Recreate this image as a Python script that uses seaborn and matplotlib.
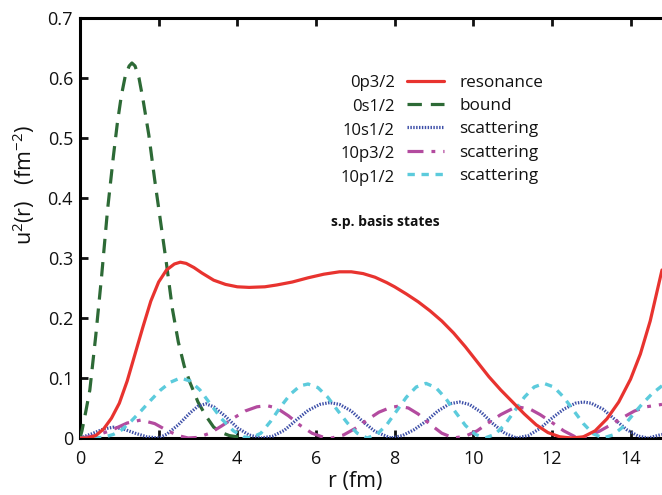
import matplotlib
matplotlib.use('Agg')
import matplotlib.pyplot as plt
import seaborn as sns

# 0p3/2 resonance
r_res = [0, 0.2, 0.4, 0.6, 0.8, 1.0, 1.2, 1.4, 1.6, 1.8, 2.0, 2.2, 2.4, 2.55, 2.7, 2.9, 3.1,
         3.4, 3.7, 4.0, 4.3, 4.7, 5.0, 5.4, 5.8, 6.2, 6.6, 6.9, 7.2, 7.5, 7.8, 8.0, 8.3, 8.6,
         8.9, 9.2, 9.5, 9.8, 10.1, 10.4, 10.7, 11.0, 11.3, 11.6, 11.9, 12.2, 12.5, 12.8,
         13.1, 13.4, 13.7, 14.0, 14.25, 14.5, 14.8]
u_res = [0, 0, 0.004, 0.015, 0.033, 0.058, 0.095, 0.14, 0.185, 0.228, 0.26, 0.28, 0.29,
         0.293, 0.291, 0.284, 0.275, 0.263, 0.256, 0.252, 0.251, 0.252, 0.255, 0.26, 0.267,
         0.273, 0.277, 0.277, 0.274, 0.268, 0.259, 0.252, 0.24, 0.227, 0.212, 0.195, 0.175,
         0.152, 0.127, 0.102, 0.08, 0.06, 0.04, 0.022, 0.009, 0.002, 0, 0.002, 0.012, 0.032,
         0.06, 0.098, 0.14, 0.195, 0.28]

# 0s1/2 bound
r_bnd = [0, 0.05, 0.15, 0.25, 0.4, 0.55, 0.7, 0.85, 0.95, 1.05, 1.15, 1.25, 1.32, 1.4, 1.5,
         1.6, 1.75, 1.9, 2.05, 2.2, 2.35, 2.5, 2.65, 2.8, 3.0, 3.2, 3.4, 3.6, 3.8, 4.0, 4.3]
u_bnd = [0, 0.012, 0.045, 0.08, 0.17, 0.27, 0.38, 0.47, 0.525, 0.57, 0.603, 0.62, 0.625,
         0.62, 0.6, 0.565, 0.505, 0.43, 0.36, 0.29, 0.215, 0.16, 0.12, 0.092, 0.06, 0.037,
         0.018, 0.009, 0.004, 0.002, 0]

# 10s1/2 scattering
r_s12 = [0, 0.3, 0.6, 0.85, 1.1, 1.4, 1.7, 2.0, 2.2, 2.5, 2.8, 3.0, 3.2, 3.4, 3.7, 4.0, 4.3,
         4.6, 4.9, 5.2, 5.5, 5.8, 6.1, 6.35, 6.6, 6.9, 7.2, 7.5, 7.9, 8.2, 8.5, 8.8, 9.1,
         9.4, 9.65, 9.9, 10.2, 10.5, 10.8, 11.1, 11.4, 11.7, 12.0, 12.3, 12.6, 12.8, 13.0,
         13.3, 13.6, 13.9, 14.2, 14.45, 14.8]
u_s12 = [0, 0.007, 0.015, 0.018, 0.015, 0.008, 0.002, 0, 0.006, 0.022, 0.042, 0.053, 0.057,
         0.052, 0.036, 0.017, 0.005, 0, 0.003, 0.013, 0.03, 0.046, 0.056, 0.059, 0.056,
         0.045, 0.027, 0.011, 0, 0.004, 0.014, 0.028, 0.045, 0.057, 0.06, 0.056, 0.043,
         0.024, 0.008, 0, 0.004, 0.016, 0.033, 0.048, 0.058, 0.06, 0.058, 0.048, 0.031,
         0.014, 0.003, 0, 0.006]

# 10p3/2 scattering
r_p32 = [0, 0.4, 0.8, 1.2, 1.55, 1.9, 2.2, 2.5, 2.75, 3.0, 3.3, 3.6, 3.9, 4.2, 4.5, 4.75,
         5.0, 5.3, 5.6, 5.9, 6.2, 6.4, 6.7, 7.0, 7.3, 7.6, 7.9, 8.1, 8.35, 8.6, 8.9, 9.2,
         9.5, 9.8, 10.1, 10.4, 10.7, 11.0, 11.2, 11.45, 11.7, 12.0, 12.3, 12.65, 12.9, 13.2,
         13.5, 13.8, 14.1, 14.4, 14.8]
u_p32 = [0, 0.004, 0.013, 0.025, 0.03, 0.024, 0.013, 0.004, 0, 0.001, 0.008, 0.02, 0.033,
         0.045, 0.052, 0.054, 0.05, 0.037, 0.021, 0.008, 0.001, 0, 0.005, 0.016, 0.03,
         0.043, 0.051, 0.053, 0.05, 0.04, 0.023, 0.008, 0, 0.003, 0.012, 0.026, 0.039,
         0.049, 0.051, 0.048, 0.039, 0.026, 0.012, 0, 0.003, 0.011, 0.022, 0.034, 0.045,
         0.052, 0.056]

# 10p1/2 scattering
r_p12 = [0, 0.3, 0.6, 0.85, 1.07, 1.3, 1.55, 1.8, 2.05, 2.3, 2.55, 2.8, 3.05, 3.3, 3.6, 3.9,
         4.15, 4.35, 4.6, 4.85, 5.1, 5.35, 5.6, 5.8, 6.05, 6.3, 6.55, 6.8, 7.05, 7.3, 7.55,
         7.8, 8.05, 8.3, 8.55, 8.8, 9.05, 9.3, 9.55, 9.8, 10.05, 10.3, 10.55, 10.8, 11.05,
         11.3, 11.55, 11.8, 12.05, 12.3, 12.55, 12.8, 13.05, 13.3, 13.55, 13.8, 14.05, 14.3,
         14.55, 14.8]
u_p12 = [0, 0, 0.001, 0.006, 0.014, 0.028, 0.045, 0.063, 0.08, 0.093, 0.1, 0.095, 0.08,
         0.058, 0.032, 0.012, 0.002, 0, 0.008, 0.028, 0.052, 0.073, 0.087, 0.09, 0.084,
         0.068, 0.046, 0.025, 0.008, 0, 0.006, 0.022, 0.045, 0.068, 0.085, 0.091, 0.084,
         0.066, 0.043, 0.021, 0.006, 0, 0.006, 0.022, 0.045, 0.068, 0.085, 0.091, 0.085,
         0.068, 0.046, 0.024, 0.007, 0, 0.005, 0.018, 0.038, 0.057, 0.074, 0.087]

state_names = ['0p3/2', '0s1/2', '10s1/2', '10p3/2', '10p1/2']
state_kinds = ['resonance', 'bound', 'scattering', 'scattering', 'scattering']

sns.set_style('ticks')
plt.rcParams['font.family'] = ['Open Sans', 'DejaVu Sans']
plt.rcParams['mathtext.default'] = 'regular'

fig = plt.figure(figsize=(6.62, 4.95), dpi=100)
ax = fig.add_axes([80 / 662, 1 - 438 / 495, 582 / 662, 420 / 495])

sns.lineplot(x=r_bnd, y=u_bnd, ax=ax, color='#2d6a36', lw=2.3,
             linestyle=(0, (4.5, 2.8)), label=state_kinds[1], zorder=3)
sns.lineplot(x=r_s12, y=u_s12, ax=ax, color='#3d4fa8', lw=2.3,
             linestyle=(0, (0.45, 0.45)), label=state_kinds[2], zorder=4)
sns.lineplot(x=r_p32, y=u_p32, ax=ax, color='#b34b9f', lw=2.3,
             linestyle=(0, (5, 2.5, 1.2, 2.5)), label=state_kinds[3], zorder=4)
sns.lineplot(x=r_p12, y=u_p12, ax=ax, color='#5ccbdc', lw=2.4,
             linestyle=(0, (2.2, 2.0)), label=state_kinds[4], zorder=4)
sns.lineplot(x=r_res, y=u_res, ax=ax, color='#e8332f', lw=2.3,
             label=state_kinds[0], zorder=5)

ax.set_xlim(0, 14.8)
ax.set_ylim(0, 0.7)
ax.set_xticks([0, 2, 4, 6, 8, 10, 12, 14])
ax.set_yticks([0, 0.1, 0.2, 0.3, 0.4, 0.5, 0.6, 0.7])
ax.set_yticklabels(['0', '0.1', '0.2', '0.3', '0.4', '0.5', '0.6', '0.7'])
ax.tick_params(direction='in', length=6, width=2, labelsize=13, colors='#111111',
               top=True, right=False, pad=9)
ax.tick_params(axis='y', pad=5)
for side in ['left', 'bottom', 'top']:
    ax.spines[side].set_linewidth(2.2)
    ax.spines[side].set_color('black')
ax.spines['right'].set_visible(False)

ax.set_xlabel('r (fm)', fontsize=15.5, color='#111111')
ax.xaxis.set_label_coords(0.473, -0.078)
ax.set_ylabel('u$^{2}$(r)   (fm$^{-2}$)', fontsize=15.5, color='#111111')
ax.yaxis.set_label_coords(-0.074, 0.602)

# legend: kinds next to the sample lines, state names on the left
h, l = ax.get_legend_handles_labels()
order = [4, 0, 1, 2, 3]
ax.legend([h[i] for i in order], [l[i] for i in order], loc='upper left',
          bbox_to_anchor=(0.562, 0.865), frameon=False, fontsize=12.3,
          handlelength=2.16, handletextpad=0.88, labelspacing=0.43,
          borderpad=0, borderaxespad=0, labelcolor='#111111')
name_y = [0.846, 0.789, 0.732, 0.676, 0.620]
for name, yy in zip(state_names, name_y):
    ax.text(0.541, yy, name, transform=ax.transAxes, ha='right', va='center',
            fontsize=12, color='#111111')

ax.text(0.524, 0.514, 's.p. basis states', transform=ax.transAxes, ha='center',
        va='center', fontsize=10, fontweight='bold', color='#111111')

fig.savefig('out.png', dpi=100)
plt.close(fig)
